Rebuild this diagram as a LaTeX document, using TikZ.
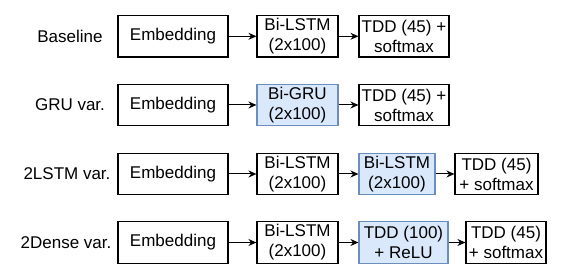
\documentclass[tikz,border=0pt]{standalone}
\usepackage{fontspec}
\setmainfont{Liberation Sans}
\usetikzlibrary{arrows.meta}
\definecolor{hlfill}{HTML}{DAE8FC}
\definecolor{hldraw}{HTML}{6C8EBF}
\tikzset{
  blk/.style={draw,line width=1.1pt,inner sep=0pt,minimum height=41.5pt,
    align=center,font=\fontsize{17}{20}\selectfont},
  hl/.style={blk,fill=hlfill,draw=hldraw},
  lbl/.style={inner sep=0pt,font=\fontsize{17}{20}\selectfont},
  nxt/.style={line width=1pt,-{Stealth[length=8pt,width=7pt]}}
}

\begin{document}
\begin{tikzpicture}[x=1pt,y=-1pt]
    \useasboundingbox (0,0) rectangle (565,280);

    % baseline
    \node[lbl] (lb1) at (70,36.3) {Baseline};
    \node[blk,minimum width=110pt] (e1) at (173,36.3) {Embedding};
    \node[blk,minimum width=81pt] (r1) at (297.5,36.3) {Bi-LSTM\\(2x100)};
    \node[blk,minimum width=90pt] (o1) at (404,36.3) {TDD (45) +\\softmax};
    \draw[nxt] (e1) -- (r1);
    \draw[nxt] (r1) -- (o1);

    % gru
    \node[lbl] (lb2) at (70,105) {GRU var.};
    \node[blk,minimum width=110pt] (e2) at (173,105) {Embedding};
    \node[hl,minimum width=81pt] (r2) at (297.5,105) {Bi-GRU\\(2x100)};
    \node[blk,minimum width=90pt] (o2) at (404,105) {TDD (45) +\\softmax};
    \draw[nxt] (e2) -- (r2);
    \draw[nxt] (r2) -- (o2);

    % two lstm layers
    \node[lbl] (lb3) at (67,174) {2LSTM var.};
    \node[blk,minimum width=110pt] (e3) at (173,174) {Embedding};
    \node[blk,minimum width=81pt] (r3) at (297.5,174) {Bi-LSTM\\(2x100)};
    \node[hl,minimum width=76pt] (s3) at (397,174) {Bi-LSTM\\(2x100)};
    \node[blk,minimum width=83pt] (o3) at (496.5,174) {TDD (45)\\+ softmax};
    \draw[nxt] (e3) -- (r3);
    \draw[nxt] (r3) -- (s3);
    \draw[nxt] (s3) -- (o3);

    % two dense layers
    \node[lbl] (lb4) at (66,242.5) {2Dense var.};
    \node[blk,minimum width=110pt] (e4) at (173,242.5) {Embedding};
    \node[blk,minimum width=81pt] (r4) at (297.5,242.5) {Bi-LSTM\\(2x100)};
    \node[hl,minimum width=89pt] (d4) at (403.5,242.5) {TDD (100)\\+ ReLU};
    \node[blk,minimum width=80pt] (o4) at (506,242.5) {TDD (45)\\+ softmax};
    \draw[nxt] (e4) -- (r4);
    \draw[nxt] (r4) -- (d4);
    \draw[nxt] (d4) -- (o4);
\end{tikzpicture}
\end{document}
